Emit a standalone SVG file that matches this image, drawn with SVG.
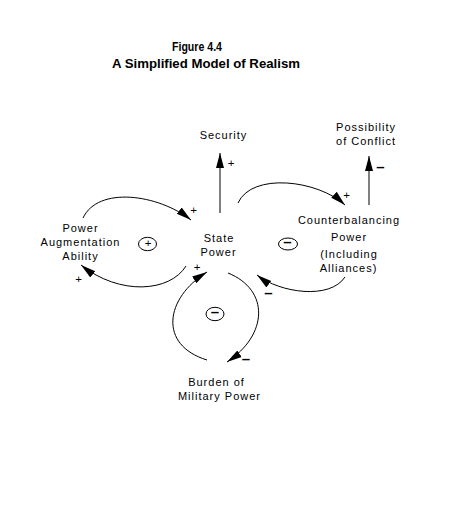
<svg xmlns="http://www.w3.org/2000/svg" width="456" height="509" viewBox="0 0 456 509">
<style>
  text { font-family: "Liberation Sans", Arial, sans-serif; fill: #000; }
  .lbl { font-size: 11px; letter-spacing: 1px; text-anchor: middle; }
  .title { font-size: 12.5px; font-weight: bold; text-anchor: middle; }
  .pol { font-size: 11.5px; text-anchor: middle; }
  .neg { font-size: 15px; font-weight: bold; text-anchor: middle; }
  .link { fill: none; stroke: #000; stroke-width: 1; marker-end: url(#arrow); }
  .loop { fill: none; stroke: #000; stroke-width: 1; }
</style>
<defs>
  <marker id="arrow" markerUnits="userSpaceOnUse" markerWidth="16" markerHeight="10" refX="15" refY="5" orient="auto">
    <path d="M0,1 L15,5 L0,9 Z" fill="#000"/>
  </marker>
</defs>
<rect width="456" height="509" fill="#fff"/>

<g id="title">
  <text class="title" x="197" y="50.5" textLength="50" lengthAdjust="spacingAndGlyphs">Figure 4.4</text>
  <text class="title" x="206" y="67.5" textLength="188" lengthAdjust="spacingAndGlyphs">A Simplified Model of Realism</text>
</g>

<g id="security">
  <text class="lbl" x="223.5" y="139">Security</text>
</g>
<g id="conflict">
  <text class="lbl" x="366" y="130.5">Possibility</text>
  <text class="lbl" x="366" y="145">of Conflict</text>
</g>
<g id="power-augmentation">
  <text class="lbl" x="80.5" y="232">Power</text>
  <text class="lbl" x="80.5" y="246">Augmentation</text>
  <text class="lbl" x="80.5" y="260">Ability</text>
</g>
<g id="state-power">
  <text class="lbl" x="219" y="242">State</text>
  <text class="lbl" x="218.5" y="256">Power</text>
</g>
<g id="counterbalancing">
  <text class="lbl" x="349" y="224">Counterbalancing</text>
  <text class="lbl" x="349" y="241">Power</text>
  <text class="lbl" x="349" y="258">(Including</text>
  <text class="lbl" x="348.5" y="272">Alliances)</text>
</g>
<g id="burden">
  <text class="lbl" x="216.5" y="386">Burden of</text>
  <text class="lbl" x="219.5" y="399.5">Military Power</text>
</g>

<g id="loop-reinforcing">
  <ellipse class="loop" cx="147.5" cy="244" rx="9" ry="6.7"/>
  <text class="pol" x="148" y="246.5">+</text>
</g>
<g id="loop-balancing-right">
  <ellipse class="loop" cx="288" cy="244" rx="9.5" ry="6"/>
  <text class="neg" x="287.5" y="247">–</text>
</g>
<g id="loop-balancing-bottom">
  <ellipse class="loop" cx="215" cy="314" rx="9" ry="6.7"/>
  <text class="neg" x="215" y="317">–</text>
</g>

<g id="connectors">
  <path class="link" d="M220,213 L220,153"/>
  <path class="link" d="M369,205 L369,156"/>
  <path class="link" d="M83,218 C98,186 158,194 191,220"/>
  <path class="link" d="M186,266 C170,292 120,296 81,265"/>
  <path class="link" d="M207,360 C158,345 165,298 207,272"/>
  <path class="link" d="M228,273 C270,290 268,335 227,362"/>
  <path class="link" d="M238,203 C252,172 318,180 345,205"/>
  <path class="link" d="M345,277 C330,300 280,293 257,275"/>

  <text class="pol" x="231" y="167">+</text>
  <text class="neg" x="380.5" y="171.5">–</text>
  <text class="pol" x="193.5" y="213.5">+</text>
  <text class="pol" x="78.5" y="282.5">+</text>
  <text class="pol" x="197" y="270.5">+</text>
  <text class="neg" x="246" y="363.5">–</text>
  <text class="pol" x="346.5" y="199">+</text>
  <text class="neg" x="268.5" y="297.5">–</text>
</g>
</svg>
